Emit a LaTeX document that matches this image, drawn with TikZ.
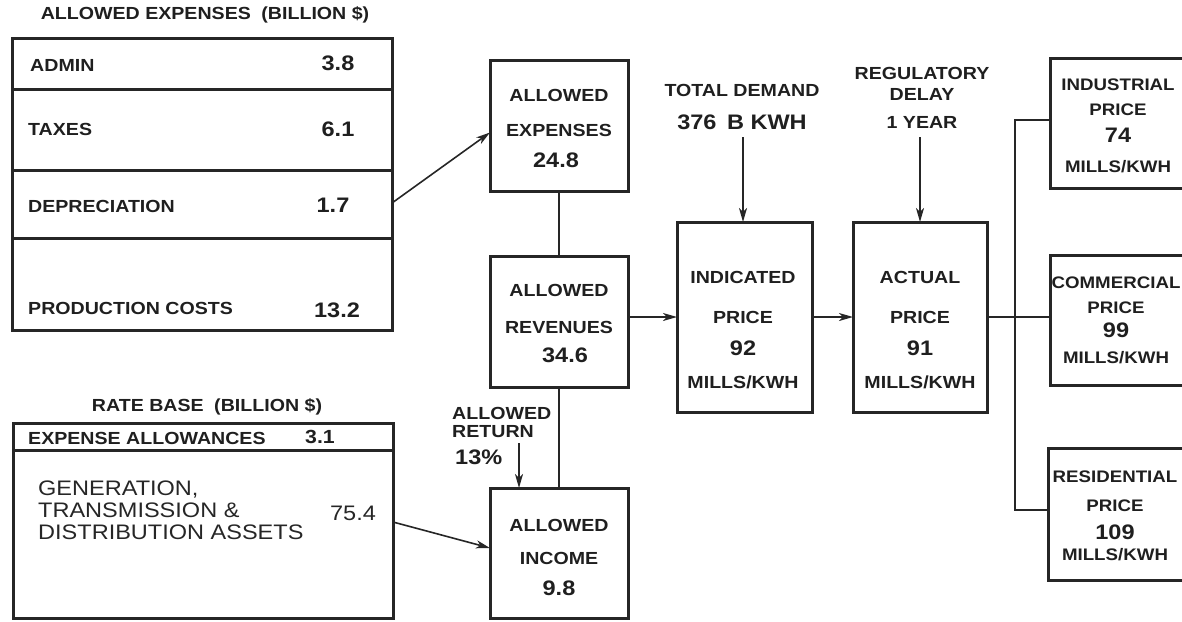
\documentclass[tikz,border=0pt]{standalone}
\usepackage{fontspec}
\setmainfont{Liberation Sans}[FakeStretch=1.12]
\usetikzlibrary{arrows.meta}
\begin{document}
\begin{tikzpicture}[x=1pt,y=-1pt,
  box/.style={draw=black!85, line width=3pt, rectangle, inner sep=0pt, outer sep=0pt},
  link/.style={draw=black!85, line width=1.6pt},
  arr/.style={link, -{Stealth[length=14pt,width=8pt,inset=4pt]}},
  lbl/.style={font=\fontsize{17.5}{19}\selectfont\bfseries, text=black!88, inner sep=0pt},
  slbl/.style={font=\fontsize{16.7}{18}\selectfont\bfseries, text=black!88, inner sep=0pt},
  num/.style={font=\fontsize{21}{23}\selectfont\bfseries, text=black!88, inner sep=0pt},
  plain/.style={font=\fontsize{21}{22}\selectfont, text=black!85, inner sep=0pt},
]
\useasboundingbox (0,0) rectangle (1182,621);
\clip (0,0) rectangle (1182,621);

% ---- allowed expenses table ----
\node[lbl] (t1) at (205,15) {ALLOWED EXPENSES\hspace{0.6em}(BILLION \$)};
\node[box, minimum width=380pt, minimum height=51pt] (admin) at (202,63.5) {};
\node[box, minimum width=380pt, minimum height=81pt] (taxes) at (202,129.5) {};
\node[box, minimum width=380pt, minimum height=68pt] (deprec) at (202,204) {};
\node[box, minimum width=380pt, minimum height=92pt] (prod) at (202,284) {};
\node[lbl, anchor=west] (ladmin) at (30,65) {ADMIN};
\node[num] (vadmin) at (338,63) {3.8};
\node[lbl, anchor=west] (ltaxes) at (28,129) {TAXES};
\node[num] (vtaxes) at (338,129) {6.1};
\node[lbl, anchor=west] (ldep) at (28,206) {DEPRECIATION};
\node[num] (vdep) at (333,205) {1.7};
\node[lbl, anchor=west] (lprod) at (28,308) {PRODUCTION COSTS};
\node[num] (vprod) at (337,310) {13.2};

% ---- rate base table ----
\node[lbl] (t2) at (207,407) {RATE BASE\hspace{0.6em}(BILLION \$)};
\node[box, minimum width=380pt, minimum height=27pt] (expall) at (203,436.5) {};
\node[box, minimum width=380pt, minimum height=168pt] (assets) at (203,534) {};
\node[lbl, anchor=west] (lexp) at (28,438) {EXPENSE ALLOWANCES};
\node[num, font=\fontsize{19}{21}\selectfont\bfseries] (vexp) at (320,437) {3.1};
\node[plain, anchor=west, align=left] (lassets) at (38,510)
  {GENERATION,\\TRANSMISSION \&\\DISTRIBUTION ASSETS};
\node[plain] (vassets) at (353,513) {75.4};

% ---- allowed expenses / revenues / income ----
\node[box, minimum width=138pt, minimum height=131pt] (aexp) at (559,125.5) {};
\node[lbl] at (559,95) {ALLOWED};
\node[lbl] at (559,130) {EXPENSES};
\node[num] at (556,160) {24.8};

\node[box, minimum width=138pt, minimum height=131pt] (arev) at (559,321.5) {};
\node[lbl] at (559,290) {ALLOWED};
\node[lbl] at (559,327) {REVENUES};
\node[num] at (565,355) {34.6};

\node[box, minimum width=138pt, minimum height=130pt] (ainc) at (559,553) {};
\node[lbl] at (559,525) {ALLOWED};
\node[lbl] at (559,558) {INCOME};
\node[num] at (559,588) {9.8};

\node[lbl, anchor=west, align=left] (lret) at (452,422) {ALLOWED\\[-1pt]RETURN};
\node[num, anchor=west] (vret) at (455,457) {13\%};
\coordinate (rettop) at (519,443);

% ---- prices ----
\node[box, minimum width=135pt, minimum height=190pt] (ind) at (744.5,317) {};
\node[lbl] at (743,277) {INDICATED};
\node[lbl] at (743,317) {PRICE};
\node[num] at (743,348) {92};
\node[lbl] at (743,382) {MILLS/KWH};

\node[box, minimum width=134pt, minimum height=190pt] (act) at (920,317) {};
\node[lbl] at (920,277) {ACTUAL};
\node[lbl] at (920,317) {PRICE};
\node[num] at (920,348) {91};
\node[lbl] at (920,382) {MILLS/KWH};

\node[lbl] (tdem) at (742,90) {TOTAL DEMAND};
\node[num] (vdem) at (742,122) {376\hspace{0.5em}B KWH};
\coordinate (demtop) at (743,137);

\node[lbl, align=center] (treg) at (922,83.5) {REGULATORY\\[2pt]DELAY};
\node[lbl] (vreg) at (922,122) {1 YEAR};
\coordinate (regtop) at (920,137);

% ---- customer classes ----
\node[box, minimum width=136pt, minimum height=130pt] (indus) at (1118,123) {};
\node[slbl] at (1118,85) {INDUSTRIAL};
\node[slbl] at (1118,110) {PRICE};
\node[num] at (1118,135) {74};
\node[slbl] at (1118,167) {MILLS/KWH};

\node[box, minimum width=136pt, minimum height=130pt] (com) at (1118,320) {};
\node[slbl] at (1116,283) {COMMERCIAL};
\node[slbl] at (1116,308) {PRICE};
\node[num] at (1116,330) {99};
\node[slbl] at (1116,358) {MILLS/KWH};

\node[box, minimum width=138pt, minimum height=132pt] (resid) at (1117,514) {};
\node[slbl] at (1115,477) {RESIDENTIAL};
\node[slbl] at (1115,506) {PRICE};
\node[num] at (1115,532) {109};
\node[slbl] at (1115,555) {MILLS/KWH};

% ---- connectors ----
\draw[arr] ([yshift=1pt]deprec.east) -- ([yshift=-7pt]aexp.west);
\draw[arr] ([yshift=12pt]assets.east) -- ([yshift=5pt]ainc.west);
\draw[link] (aexp.south) -- (arev.north);
\draw[link] (arev.south) -- (ainc.north);
\draw[arr] (rettop) -- (rettop |- ainc.north);
\draw[arr] (ind.west -| arev.east) -- (ind.west);
\draw[arr] (ind.east) -- (act.west);
\draw[arr] (demtop) -- (demtop |- ind.north);
\draw[arr] (regtop) -- (regtop |- act.north);
% distribution bus feeding the three customer classes
\coordinate (bustop) at (1015,120);
\coordinate (busbot) at (1015,510);
\draw[link] (act.east) -- (act.east -| com.west);
\draw[link] (bustop -| indus.west) -- (bustop) -- (busbot) -- (busbot -| resid.west);
\end{tikzpicture}
\end{document}
